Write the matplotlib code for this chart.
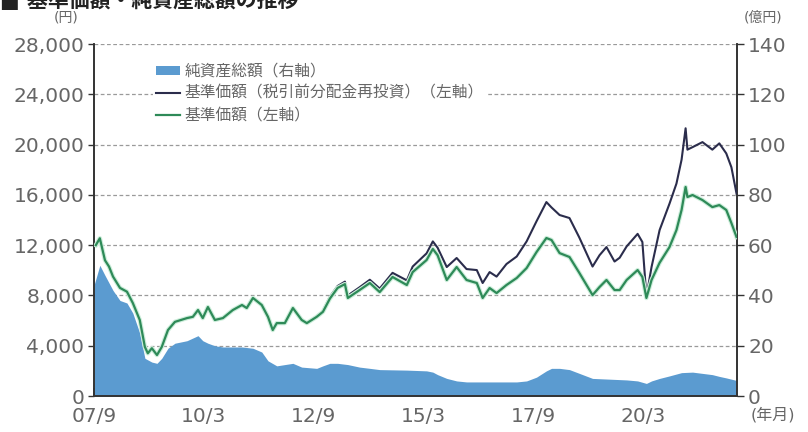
import matplotlib.pyplot as plt
import matplotlib.patheffects as pe
from matplotlib.patches import Patch
from matplotlib.lines import Line2D

plt.rcParams['font.family'] = ['DejaVu Sans', 'Noto Sans CJK JP']

# months counted from 2007/9
months = [0.5, 1.6, 3.0, 4.1, 5.2, 7.1, 9.0, 10.6, 12.5, 13.9,
          14.7, 15.8, 17.2, 18.5, 20.2, 22.1, 25.4, 27.0, 28.4, 29.7,
          31.1, 33.0, 35.2, 37.9, 40.4, 41.7, 43.4, 45.8, 47.5, 48.8,
          49.9, 52.1, 54.3, 56.7, 58.1, 60.8, 62.5, 64.4, 66.5, 68.5,
          69.3, 72.5, 75.3, 78.0, 81.5, 85.4, 87.0, 90.8, 92.5, 93.8,
          96.3, 99.0, 101.7, 104.5, 106.1, 108.0, 109.9, 112.6, 115.4, 118.1,
          120.8, 123.5, 124.9, 127.1, 129.8, 132.5, 136.1, 138.0, 139.9, 142.1,
          143.5, 145.4, 148.4, 149.7, 150.8, 152.2, 154.4, 157.1, 159.0, 160.4,
          161.5, 162.0, 163.4, 166.1, 168.8, 170.7, 172.6, 174.0, 175.4]

# 基準価額 (円)
nav = [12000, 12550, 10800, 10300, 9500, 8600, 8300, 7400, 6050, 3900,
       3400, 3800, 3260, 3900, 5250, 5900, 6200, 6300, 6840, 6200,
       7080, 6050, 6200, 6840, 7240, 7000, 7800, 7240, 6300, 5250,
       5800, 5800, 7000, 6050, 5800, 6300, 6700, 7750, 8600, 8900,
       7800, 8430, 8990, 8270, 9470, 8830, 9860, 10820, 11700, 11200,
       9230, 10260, 9230, 8990, 7800, 8590, 8190, 8830, 9390, 10180,
       11450, 12570, 12410, 11370, 11060, 9790, 8030, 8670, 9230, 8430,
       8430, 9230, 10020, 9470, 7800, 9230, 10600, 11850, 13200, 14800,
       16630, 15830, 15990, 15590, 15030, 15190, 14800, 13760, 12650]

# 基準価額（税引前分配金再投資）(円)
nav_reinv = [12000, 12550, 10800, 10300, 9500, 8600, 8300, 7400, 6050, 3900,
             3400, 3800, 3260, 3900, 5250, 5900, 6200, 6300, 6840, 6200,
             7080, 6050, 6200, 6840, 7240, 7000, 7800, 7240, 6300, 5250,
             5800, 5800, 7000, 6050, 5800, 6350, 6780, 7900, 8750, 9100,
             8000, 8650, 9250, 8550, 9800, 9200, 10300, 11350, 12300, 11800,
             10260, 10980, 10100, 10020, 8990, 9860, 9500, 10500, 11100, 12300,
             13900, 15430, 15000, 14400, 14160, 12600, 10300, 11200, 11850, 10700,
             11000, 11900, 12900, 12250, 7900, 10260, 13200, 15300, 16900, 18800,
             21300, 19600, 19800, 20200, 19600, 20100, 19300, 18200, 16100]

# 純資産総額 (億円)
aum_months = [0, 1.6, 3.0, 5.2, 7.1, 9.0, 10.6, 12.5, 13.9, 15.8,
              17.2, 18.5, 20.2, 22.1, 25.4, 28.4, 29.7, 31.1, 33.0, 35.2,
              40.4, 43.4, 45.8, 47.5, 49.9, 52.1, 54.3, 56.7, 60.8, 62.5,
              64.4, 66.5, 69.3, 72.5, 75.3, 78.0, 85.4, 90.8, 92.5, 93.8,
              96.3, 99.0, 101.7, 115.4, 118.1, 120.8, 123.5, 124.9, 127.1, 129.8,
              132.5, 136.1, 145.4, 148.4, 150.8, 152.2, 154.4, 157.1, 160.4, 163.4,
              166.1, 168.8, 170.7, 172.6, 175.4]
aum = [44, 52, 48, 42, 38, 37, 33, 25, 15, 13.5,
       13, 15, 19, 21, 22, 24, 22, 21, 20, 19.5,
       19.5, 19, 17.5, 14, 12, 12.5, 13, 11.5, 11, 12,
       13, 13, 12.5, 11.5, 11, 10.5, 10.3, 10, 9.5, 8.5,
       7, 6, 5.6, 5.6, 6, 7.5, 10, 11, 11, 10.5,
       9, 7, 6.4, 6, 5, 6, 7, 8, 9.3, 9.5,
       9, 8.5, 7.8, 7.2, 6.2]

tick_pos = [0, 30, 60, 90, 120, 150]
tick_labels = ['07/9', '10/3', '12/9', '15/3', '17/9', '20/3']

fig = plt.figure(figsize=(8.08, 4.32), dpi=100)
ax2 = fig.add_axes([0.1163, 0.0833, 0.7957, 0.8147])
ax = ax2.twinx()
ax.set_zorder(ax2.get_zorder() + 1)
ax.patch.set_visible(False)

blue = '#5b9bd0'
navy = '#2b2d4c'
green = '#2e8a58'
gray = '#666666'

# area (right axis)
ax2.fill_between(aum_months, aum, 0, color=blue, lw=0, zorder=2)
ax2.set_ylim(0, 140)
ax2.set_yticks(range(0, 141, 20))
ax2.set_axisbelow(True)
ax2.grid(axis='y', color='#9a9a9a', ls=(0, (3, 2)), lw=0.9)
ax2.yaxis.tick_right()
ax2.yaxis.set_label_position('right')

# lines (left axis)
ax.plot(months, nav_reinv, color=navy, lw=1.5, zorder=3)
ax.plot(months, nav, color=green, lw=1.6, zorder=4,
        path_effects=[pe.withStroke(linewidth=3.2, foreground='#cdeedb')])
ax.set_ylim(0, 28000)
ax.set_yticks(range(0, 28001, 4000))
ax.set_yticklabels([f'{v:,}' for v in range(0, 28001, 4000)])
ax.yaxis.tick_left()

ax2.set_xlim(0, 175.5)
ax2.set_xticks(tick_pos)
ax2.set_xticklabels(tick_labels)

for a in (ax, ax2):
    for s in a.spines.values():
        s.set_color('#333333')
        s.set_linewidth(1.2)
    a.spines['top'].set_visible(False)

ax2.tick_params(axis='x', direction='in', length=6, width=1.2, color='#333333',
                labelsize=14.5, labelcolor=gray, pad=8)
ax2.tick_params(axis='y', direction='out', length=5, width=1, color='#333333',
                labelsize=14.5, labelcolor=gray, pad=3)
ax.tick_params(axis='y', direction='out', length=4, width=1, color='#333333',
               labelsize=14.5, labelcolor=gray, pad=3)

# unit labels
fig.text(0.082, 0.960, '(円)', fontsize=10, color=gray, ha='center', va='center')
fig.text(0.944, 0.960, '(億円)', fontsize=10, color=gray, ha='center', va='center')
fig.text(0.957, 0.040, '(年月)', fontsize=11.5, color=gray, ha='center', va='center')

# title (partly cut off at top, as in the source image)
fig.text(0.0, 1.0, '■ 基準価額・純資産総額の推移', fontsize=15, fontweight='bold',
         color='#222222', ha='left', va='center')

handles = [Patch(facecolor=blue, edgecolor='none'),
           Line2D([], [], color=navy, lw=1.5),
           Line2D([], [], color=green, lw=1.6)]
labels = ['純資産総額（右軸）',
          '基準価額（税引前分配金再投資）（左軸）',
          '基準価額（左軸）']
leg = ax.legend(handles, labels, loc='upper left', bbox_to_anchor=(0.08, 0.975),
                fontsize=11.3, frameon=True, facecolor='white', edgecolor='none',
                framealpha=1, fancybox=False, handlelength=1.5, handleheight=0.5,
                handletextpad=0.3, labelspacing=0.45, borderpad=0.2)
for t in leg.get_texts():
    t.set_color(gray)

fig.savefig('out.png', dpi=100)
